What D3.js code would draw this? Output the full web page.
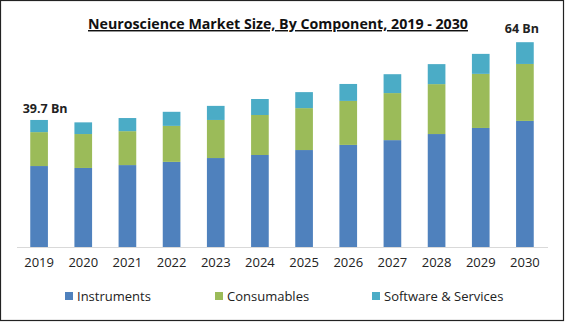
<!DOCTYPE html>
<html><head><meta charset="utf-8">
<script src="https://cdn.jsdelivr.net/npm/d3@7"></script>
<style>body{margin:0;background:#fff}svg{display:block}</style>
</head><body>
<svg id="c" width="565" height="322"></svg>
<script>
const years = ["2019","2020","2021","2022","2023","2024","2025","2026","2027","2028","2029","2030"];
const instruments = [25.3,24.7,25.6,26.6,27.8,28.75,30.3,31.9,33.4,35.3,37.2,39.4];
const consumables = [10.6,10.6,10.6,11.25,11.9,12.5,13.1,13.75,14.7,15.6,16.9,17.8];
const software = [3.8,3.65,4.1,4.4,4.4,5.0,5.0,5.3,5.9,6.25,6.25,6.8];
const seriesNames = ["Instruments","Consumables","Software & Services"];
const colors = ["#4F81BD","#9BBB59","#4BACC6"];
const endLabels = [{i:0,text:"39.7 Bn"},{i:11,text:"64 Bn"}];

const svg = d3.select("#c");
const font = "'Open Sans', sans-serif";
svg.append("rect").attr("x",0.5).attr("y",0.5).attr("width",563).attr("height",320)
  .attr("fill","#fff").attr("stroke","#222").attr("stroke-width",1.2);

const x = d3.scaleBand().domain(years).range([17,547]).paddingInner(0.6).paddingOuter(0.3);
const y = d3.scaleLinear().domain([0,70]).range([247,23]);

const rows = years.map((yr,i)=>({year:yr, Instruments:instruments[i], Consumables:consumables[i], "Software & Services":software[i]}));
const stack = d3.stack().keys(seriesNames)(rows);

svg.append("g").selectAll("g").data(stack).join("g").attr("fill",(d,i)=>colors[i])
  .selectAll("rect").data(d=>d).join("rect")
  .attr("x",d=>x(d.data.year)).attr("width",x.bandwidth())
  .attr("y",d=>y(d[1])).attr("height",d=>y(d[0])-y(d[1]));

// axis
const ax = svg.append("g").attr("transform","translate(0,247)").call(d3.axisBottom(x).tickSize(0).tickPadding(11));
ax.select(".domain").attr("stroke","#d9d9d9").attr("d","M17,0.5H548");
ax.selectAll("text").attr("font-family",font).attr("font-size",13).attr("fill","#222");

// totals
const totals = years.map((_,i)=>instruments[i]+consumables[i]+software[i]);
svg.selectAll(".tl").data(endLabels).join("text")
  .attr("x",d=>x(years[d.i])+x.bandwidth()/2 + (d.i===0?6:-3))
  .attr("y",d=>(d.i===0? y(totals[d.i])-7 : 33))
  .attr("text-anchor","middle").attr("font-family",font).attr("font-weight","bold")
  .attr("font-size",12.5).attr("fill","#222").text(d=>d.text);

// title
svg.append("text").attr("x",278).attr("y",29).attr("text-anchor","middle")
  .attr("font-family",font).attr("font-weight","bold").attr("font-size",14.5)
  .attr("text-decoration","underline").attr("fill","#111")
  .attr("textLength",380).attr("lengthAdjust","spacingAndGlyphs")
  .text("Neuroscience Market Size, By Component, 2019 - 2030");

// legend
const legX = [65,215,372];
const lg = svg.append("g").selectAll("g").data(seriesNames).join("g")
  .attr("transform",(d,i)=>`translate(${legX[i]},292)`);
lg.append("rect").attr("width",8).attr("height",8).attr("fill",(d,i)=>colors[i]);
lg.append("text").attr("x",12).attr("y",8.5).attr("font-family",font).attr("font-size",13)
  .attr("fill","#222").text(d=>d);
</script>
</body></html>
